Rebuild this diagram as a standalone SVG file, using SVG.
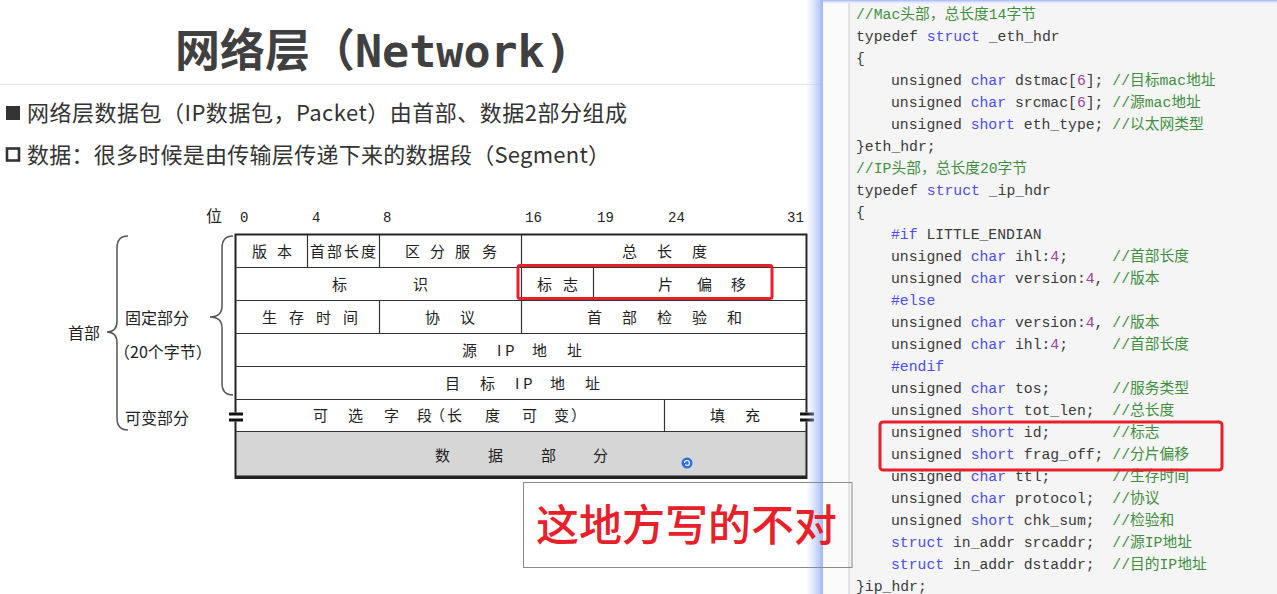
<svg xmlns="http://www.w3.org/2000/svg" width="1277" height="594" viewBox="0 0 1277 594">
<defs>
<style>
.cn{font-family:"Noto Sans CJK SC","Liberation Sans",sans-serif;}
.tb{font-family:"Noto Sans CJK SC","Liberation Sans",sans-serif;font-size:15px;fill:#222;}
.lbl{font-family:"Noto Sans CJK SC","Liberation Sans",sans-serif;font-size:16px;fill:#222;}
.bit{font-family:"Liberation Mono","Noto Sans CJK SC",monospace;font-size:14px;fill:#222;}
.line{stroke:#333;stroke-width:1.2;fill:none;}
.brace{stroke:#555;stroke-width:1.5;fill:none;}
.code{font-family:"Liberation Mono","Noto Sans CJK SC",monospace;font-size:14.75px;fill:#3a3a3a;white-space:pre;}
.code text{white-space:pre;}
.k{fill:#4c4cf0;}
.c{fill:#3f8f3f;}
.n{fill:#a040a0;}
.hl{fill:none;stroke:#e8202a;stroke-width:3;}
</style>
<linearGradient id="glow" x1="0" y1="0" x2="1" y2="0">
<stop offset="0" stop-color="#c5d4fb" stop-opacity="0"/>
<stop offset="1" stop-color="#9db5f4" stop-opacity="1"/>
</linearGradient>
<linearGradient id="glowTop" x1="0" y1="0" x2="0" y2="1">
<stop offset="0" stop-color="#9db5f4"/>
<stop offset="1" stop-color="#c5d4fb" stop-opacity="0"/>
</linearGradient>
</defs>
<rect x="0" y="0" width="1277" height="594" fill="#ffffff"/>

<g id="title">
<text x="175" y="67" class="cn" font-size="45" font-weight="bold" fill="#404040">网络层（<tspan font-family="DejaVu Sans Mono,Liberation Mono,monospace">Network)</tspan></text>
<line x1="0" y1="84.5" x2="822" y2="84.5" stroke="#e6e6e6" stroke-width="1"/>
</g>

<g id="bullets">
<rect x="6" y="106" width="14" height="14" fill="#333"/>
<text x="27" y="121" class="cn" font-size="22" fill="#333" textLength="600" lengthAdjust="spacing">网络层数据包（IP数据包，Packet）由首部、数据2部分组成</text>
<rect x="7" y="148.5" width="12" height="12" fill="none" stroke="#333" stroke-width="2.6"/>
<text x="27" y="163" class="cn" font-size="22" fill="#333" textLength="583" lengthAdjust="spacing">数据：很多时候是由传输层传递下来的数据段（Segment）</text>
</g>

<g id="bit-scale">
<text x="206" y="222" class="lbl" font-size="15">位</text>
<text class="bit" y="222"><tspan x="240">0</tspan><tspan x="312">4</tspan><tspan x="383">8</tspan><tspan x="525">16</tspan><tspan x="597">19</tspan><tspan x="668">24</tspan><tspan x="787">31</tspan></text>
</g>

<g id="braces">
<path class="brace" d="M128,236 Q117,236 117,248 L117,321 Q117,332 107,332 Q117,332 117,343 L117,418 Q117,430 128,430"/>
<path class="brace" d="M233,236 Q222,236 222,248 L222,306 Q222,317 210,317 Q222,317 222,328 L222,383 Q222,395 233,395"/>
<text x="68" y="339" class="lbl">首部</text>
<text x="125" y="324" class="lbl">固定部分</text>
<text x="114" y="358" class="lbl">（20个字节）</text>
<text x="125" y="424" class="lbl">可变部分</text>
</g>

<g id="ip-header">
<rect x="235.5" y="431.5" width="571" height="46.5" fill="#d6d6d6"/>
<rect x="235.5" y="234.5" width="571" height="243.5" fill="none" stroke="#222" stroke-width="2"/>
<line x1="235.5" y1="476.8" x2="806.5" y2="476.8" stroke="#222" stroke-width="2.5"/>
<g class="line">
<line x1="235.5" y1="267.5" x2="806.5" y2="267.5"/>
<line x1="235.5" y1="300.5" x2="806.5" y2="300.5"/>
<line x1="235.5" y1="333.5" x2="806.5" y2="333.5"/>
<line x1="235.5" y1="366.5" x2="806.5" y2="366.5"/>
<line x1="235.5" y1="399.5" x2="806.5" y2="399.5"/>
<line x1="235.5" y1="431.5" x2="806.5" y2="431.5"/>
<line x1="307.5" y1="234.5" x2="307.5" y2="267.5"/>
<line x1="379.5" y1="234.5" x2="379.5" y2="267.5"/>
<line x1="521.5" y1="234.5" x2="521.5" y2="333.5"/>
<line x1="593.5" y1="267.5" x2="593.5" y2="300.5"/>
<line x1="379.5" y1="300.5" x2="379.5" y2="333.5"/>
<line x1="664.5" y1="399.5" x2="664.5" y2="431.5"/>
</g>
<g id="breaks">
<rect x="229" y="412.5" width="14" height="9" fill="#fff"/>
<rect x="229" y="412.5" width="14" height="3" fill="#111"/>
<rect x="229" y="418.5" width="14" height="3" fill="#111"/>
<rect x="800" y="412.5" width="14" height="9" fill="#fff"/>
<rect x="800" y="412.5" width="14" height="3" fill="#111"/>
<rect x="800" y="418.5" width="14" height="3" fill="#111"/>
</g>
<g id="row1"><text class="tb" y="257" x="252 277">版本</text><text class="tb" y="257" x="310 327 344 361">首部长度</text><text class="tb" y="257" x="405 430 455 482">区分服务</text><text class="tb" y="257" x="622 657 692">总长度</text></g>
<g id="row2"><text class="tb" y="290" x="332 413">标识</text><text class="tb" y="290" x="537 563">标志</text><text class="tb" y="290" x="658 697 731">片偏移</text></g>
<g id="row3"><text class="tb" y="323" x="262 289 316 343">生存时间</text><text class="tb" y="323" x="425 460">协议</text><text class="tb" y="323" x="587 622 657 692 727">首部检验和</text></g>
<g id="row4"><text class="tb" y="356" x="462 497 505 532 567">源IP地址</text></g>
<g id="row5"><text class="tb" y="388.5" x="445 480 515 523 550 585">目标IP地址</text></g>
<g id="row6"><text class="tb" y="421" x="313 348 384 417 430 447 485 522 554 571">可选字段（长度可变）</text><text class="tb" y="421" x="710 745">填充</text></g>
<g id="data"><text class="tb" y="461" x="435 488 541 593">数据部分</text></g>
<rect class="hl" x="518" y="265.5" width="254" height="33" rx="2"/>
<g id="icon"><circle cx="687" cy="463" r="5.5" fill="#2f6fe0"/><path d="M684.5,463 a2.5,2.5 0 1,1 2.5,2.5 a1.3,1.3 0 0,1 -1.3,-1.3" stroke="#fff" stroke-width="1.2" fill="none"/></g>
</g>

<g id="code-panel">
<rect x="823" y="3" width="454" height="591" fill="#f5f5f5"/>
<rect x="823" y="3" width="26" height="591" fill="#fbfbfb"/>
<line x1="849" y1="3" x2="849" y2="594" stroke="#cfcfcf" stroke-width="1"/>
<rect x="806" y="0" width="17" height="594" fill="url(#glow)"/>
<rect x="823" y="0" width="454" height="4" fill="url(#glowTop)"/>
<g class="code">
<text xml:space="preserve" x="856" y="18.5"><tspan class="c">//Mac头部，总长度14字节</tspan></text>
<text xml:space="preserve" x="856" y="40.5">typedef <tspan class="k">struct</tspan> _eth_hdr</text>
<text xml:space="preserve" x="856" y="62.5">{</text>
<text xml:space="preserve" x="891" y="84.5">unsigned <tspan class="k">char</tspan> dstmac[<tspan class="n">6</tspan>]; <tspan class="c">//目标mac地址</tspan></text>
<text xml:space="preserve" x="891" y="106.5">unsigned <tspan class="k">char</tspan> srcmac[<tspan class="n">6</tspan>]; <tspan class="c">//源mac地址</tspan></text>
<text xml:space="preserve" x="891" y="128.5">unsigned <tspan class="k">short</tspan> eth_type; <tspan class="c">//以太网类型</tspan></text>
<text xml:space="preserve" x="856" y="150.5">}eth_hdr;</text>
<text xml:space="preserve" x="856" y="172.5"><tspan class="c">//IP头部，总长度20字节</tspan></text>
<text xml:space="preserve" x="856" y="194.5">typedef <tspan class="k">struct</tspan> _ip_hdr</text>
<text xml:space="preserve" x="856" y="216.5">{</text>
<text xml:space="preserve" x="891" y="238.5"><tspan class="k">#if</tspan> LITTLE_ENDIAN</text>
<text xml:space="preserve" x="891" y="260.5">unsigned <tspan class="k">char</tspan> ihl:<tspan class="n">4</tspan>;     <tspan class="c">//首部长度</tspan></text>
<text xml:space="preserve" x="891" y="282.5">unsigned <tspan class="k">char</tspan> version:<tspan class="n">4</tspan>, <tspan class="c">//版本</tspan></text>
<text xml:space="preserve" x="891" y="304.5"><tspan class="k">#else</tspan></text>
<text xml:space="preserve" x="891" y="326.5">unsigned <tspan class="k">char</tspan> version:<tspan class="n">4</tspan>, <tspan class="c">//版本</tspan></text>
<text xml:space="preserve" x="891" y="348.5">unsigned <tspan class="k">char</tspan> ihl:<tspan class="n">4</tspan>;     <tspan class="c">//首部长度</tspan></text>
<text xml:space="preserve" x="891" y="370.5"><tspan class="k">#endif</tspan></text>
<text xml:space="preserve" x="891" y="392.5">unsigned <tspan class="k">char</tspan> tos;       <tspan class="c">//服务类型</tspan></text>
<text xml:space="preserve" x="891" y="414.5">unsigned <tspan class="k">short</tspan> tot_len;  <tspan class="c">//总长度</tspan></text>
<text xml:space="preserve" x="891" y="436.5">unsigned <tspan class="k">short</tspan> id;       <tspan class="c">//标志</tspan></text>
<text xml:space="preserve" x="891" y="458.5">unsigned <tspan class="k">short</tspan> frag_off; <tspan class="c">//分片偏移</tspan></text>
<text xml:space="preserve" x="891" y="480.5">unsigned <tspan class="k">char</tspan> ttl;       <tspan class="c">//生存时间</tspan></text>
<text xml:space="preserve" x="891" y="502.5">unsigned <tspan class="k">char</tspan> protocol;  <tspan class="c">//协议</tspan></text>
<text xml:space="preserve" x="891" y="524.5">unsigned <tspan class="k">short</tspan> chk_sum;  <tspan class="c">//检验和</tspan></text>
<text xml:space="preserve" x="891" y="546.5"><tspan class="k">struct</tspan> in_addr srcaddr;  <tspan class="c">//源IP地址</tspan></text>
<text xml:space="preserve" x="891" y="568.5"><tspan class="k">struct</tspan> in_addr dstaddr;  <tspan class="c">//目的IP地址</tspan></text>
<text xml:space="preserve" x="856" y="590.5">}ip_hdr;</text>
</g>
<rect class="hl" x="880" y="422" width="342" height="48" rx="3"/>
</g>

<g id="note">
<rect x="523.5" y="482.5" width="328.5" height="85" fill="none" stroke="#8a8a8a" stroke-width="1"/>
<text x="536" y="541" class="cn" font-size="43" font-weight="500" fill="#e8202a">这地方写的不对</text>
</g>
</svg>
